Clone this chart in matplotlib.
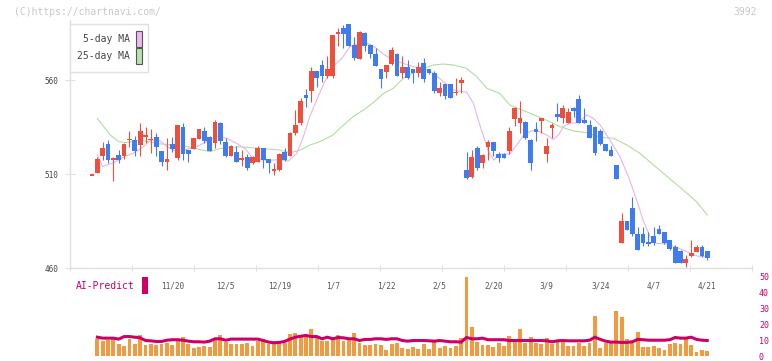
import numpy as np
import matplotlib
matplotlib.use("Agg")
import matplotlib.pyplot as plt
import matplotlib.transforms as mtransforms
from matplotlib.patches import Rectangle

# daily candles (open, high, low, close), oldest first
opens = [509, 510.7, 519.7, 526, 517.5, 520, 519.7, 528, 528, 525.6,
         529.5, 528, 529.7, 522, 516.6, 526, 518.7, 535.2, 522.8, 523.5,
         528.8, 532.7, 529.7, 526.7, 537.1, 527, 519.7, 521.7, 517.5, 519,
         515.7, 516.6, 523.6, 517.8, 511.8, 512, 521.9, 519.8, 531.6, 537.3,
         552, 554.1, 564.8, 568, 562.3, 562.3, 584.5, 587.5, 589.8, 578.6,
         571.3, 585.2, 578.6, 574, 565.8, 564.4, 568.5, 574, 563.5, 567.1,
         565.7, 563.5, 569.2, 565.7, 563.5, 552.9, 557.9, 557.9, 552.9, 558.6,
         512.1, 508.6, 524, 515.7, 524.5, 526.8, 520.6, 520.5, 522.4, 539.4,
         537.3, 537.7, 528.1, 533.8, 538.4, 520.5, 534.6, 541.9, 539.6, 537.3,
         544.9, 549.9, 538.7, 535.9, 535.2, 532.9, 525.8, 522.8, 514.8, 473.5,
         485, 491.9, 478.1, 477.9, 473.8, 477, 480.7, 479.1, 474.9, 471,
         469.2, 462.8, 466.4, 468.7, 471, 469]
highs = [509, 519, 527, 528, 519.2, 522.8, 526.5, 532.9, 530, 537.3,
         535.2, 534, 532, 522.5, 529.3, 529.7, 536.3, 537.3, 523, 529.2,
         534.2, 534.8, 530, 538.7, 537.7, 529, 525.5, 525, 522.8, 520.5,
         519.5, 525, 524, 518, 515.7, 521, 524, 532.5, 544, 550.2,
         555.2, 567.1, 565, 570.6, 572.9, 584.2, 587.5, 589, 590, 583,
         585.8, 585.5, 579, 577.2, 566, 568.2, 577.7, 574.5, 572.9, 570.6,
         566, 569.7, 571.9, 566, 564.8, 559.1, 558, 558, 560.9, 561.8,
         521.9, 522.8, 524.9, 520.5, 528, 527, 521.9, 521, 535.2, 545.5,
         548.8, 538, 528.5, 537.7, 540, 529, 537, 547.6, 546.7, 545.3,
         545.8, 552, 544.9, 538.7, 535.5, 533.8, 526, 524.9, 515, 489,
         485.2, 497.9, 482, 482, 479.3, 482, 482.9, 479.3, 475, 472.2,
         469.5, 466.9, 474.9, 472.2, 472.2, 469.2]
lows = [509, 510.5, 517.5, 515.7, 506.5, 515.7, 517.8, 524.5, 519.7, 519.7,
        526.3, 521, 519.7, 514.4, 512.1, 521.5, 517.4, 517.4, 516.6, 523.5,
        528.8, 526.3, 522, 523.6, 525.8, 518.9, 519.5, 516.6, 514.4, 512.3,
        515.5, 516.3, 513.4, 510.7, 509.6, 511.5, 517, 519.5, 531, 536,
        545.5, 548.5, 556.4, 559.1, 560.9, 560.9, 578, 576.8, 578, 570.6,
        571, 575.6, 571.5, 567.6, 555.9, 561, 568, 562, 560.9, 560.5,
        558.6, 561.8, 559.1, 563, 552.9, 551.5, 549.7, 550.5, 552, 552.9,
        507.5, 508, 512.1, 513, 517.4, 519.8, 516.6, 518.5, 520.6, 535.7,
        531.6, 528.4, 512.1, 527.7, 531.6, 516.6, 529, 538.4, 537.3, 537,
        540.5, 537, 537, 529, 520.1, 525.5, 522, 519.5, 507.3, 473.3,
        480, 477, 469.6, 471.9, 471.9, 472.2, 477.9, 473, 469.6, 462.8,
        462.8, 460.7, 466, 468.5, 465.7, 464.2]
closes = [509, 517.8, 523.8, 517.5, 518, 517.4, 526, 528.5, 522.4, 532.9,
          531, 528.5, 524.5, 516.6, 518, 523.5, 536, 520.5, 520.5, 529.2,
          534, 527.7, 522.4, 537.7, 527.7, 519.7, 524.9, 516.6, 518, 513.4,
          519, 523.6, 517.4, 515.7, 512.6, 520.5, 517.4, 532, 536, 549,
          550.6, 564.8, 561.2, 562.3, 565.8, 584, 585, 584.5, 578.3, 571.5,
          585.5, 578.3, 573.6, 567.6, 560.7, 568, 576, 562.3, 567.1, 560.9,
          563.5, 567.1, 560.5, 563.5, 554.3, 555.7, 551.5, 550.6, 553.8, 560,
          507.7, 519.2, 513.4, 520, 526.8, 522.4, 518.7, 518.7, 533, 545.3,
          539.6, 529, 515.7, 532.5, 539.6, 524.9, 536, 540.5, 545.1, 542.8,
          543.7, 537, 537.3, 529.3, 521.3, 525.8, 522.4, 519.8, 507.5, 485,
          480.2, 478.1, 469.6, 473.1, 472.6, 473.5, 477.9, 473.5, 469.9, 462.8,
          462.8, 464.8, 468.1, 471, 466.4, 465.5]

# moving averages (candle index, price)
ma5_x = [1, 2, 4, 6, 7.7, 9.6, 11, 12.7, 14, 15.5, 17.7, 19.6, 21.4, 23.3, 25.2, 27,
         28.6, 29.9, 32, 33.9, 35, 36.7, 38.3, 39.5, 40.7, 42, 43.5, 45, 46.7, 48.2,
         49.8, 51.5, 53.2, 54.7, 56.3, 58.2, 60, 62, 63.8, 65.7, 67.5, 69.1, 70,
         71.3, 72.2, 73.2, 74.1, 75.1, 76.2, 78.1, 79.4, 80.7, 82.2, 83.7, 85, 86.2,
         87.2, 88.1, 89.4, 90.9, 92.5, 93.7, 95, 96.8, 98.7, 100.5, 101.8, 103,
         104.3, 105.5, 107.4, 109, 110.5, 112.1, 113.6, 115]
ma5_y = [520.1, 513.9, 516, 519.2, 521, 524.5, 528.1, 527.7, 524.5, 522.4, 523.1,
         524.5, 527.2, 529.9, 529, 526.3, 523.6, 518.9, 517.4, 517.4, 517.8, 516.9,
         521, 529.8, 540.5, 549.4, 559.1, 567.1, 571.5, 577.7, 579.5, 579.5, 576.8,
         573.3, 570.6, 568.8, 567.1, 566.2, 563.5, 559.1, 554.7, 553.8, 553.6,
         547.6, 538.7, 529.9, 521.9, 517.4, 520.6, 520.6, 525.4, 530.7, 533, 532.5,
         530.7, 528.4, 530.7, 535.2, 537, 537.3, 541.4, 539.6, 536, 528.1, 519.2,
         506.8, 496.2, 485.5, 476.7, 473.1, 472.8, 471.3, 469.6, 467.4, 466, 466]
ma25_x = [1, 3.4, 5, 6.5, 9, 12, 15, 18, 20, 22, 24, 27.7, 31.4, 35, 37, 39, 40.7,
          42.6, 45, 47, 48.8, 50.7, 52.6, 54.5, 56.3, 58.2, 60.1, 62, 63.8, 65.7,
          67.5, 70, 71.9, 73.8, 76.2, 78.1, 80, 81.9, 83.7, 85.6, 87.5, 90, 92.5,
          95, 97.5, 100, 102.4, 105.5, 108.3, 110.5, 113, 115]
ma25_y = [539.6, 530.7, 527.2, 526.7, 528.1, 526.3, 525.4, 524.5, 523.1, 521.9,
          523.6, 524.5, 523.6, 522.8, 521.3, 522.8, 525.4, 527.2, 530.7, 536,
          540.5, 544, 548, 552.9, 555.6, 560.9, 563.9, 566.2, 568, 568.5, 568,
          566.2, 561.8, 555.6, 552.9, 546.7, 544.4, 542.3, 540.1, 537.8, 535.2,
          532.9, 532, 529.5, 529, 525.4, 521, 513.5, 506.8, 501.5, 495.3, 488.2]

# lower panel: bars and AI-Predict line
volume = [0, 10.9, 9.4, 10.3, 12.3, 7.3, 6.3, 10.7, 7.5, 13.2,
          6.9, 7.5, 6.9, 7.7, 8.2, 6.9, 9.8, 11.9, 7.3, 5.0,
          5.6, 6.1, 5.6, 11.7, 13.2, 8.8, 7.5, 7.5, 7.5, 8.2,
          6.3, 9.4, 10.7, 7.3, 7.7, 8.4, 8.2, 13.8, 14.4, 12.3,
          11.9, 17.2, 11.9, 9.4, 9.8, 11.1, 13.2, 9.6, 11.3, 14.4,
          8.4, 6.9, 6.9, 7.5, 6.9, 3.8, 7.3, 8.2, 5.0, 4.4,
          5.6, 4.6, 7.3, 4.2, 8.8, 5.2, 6.1, 5.0, 6.1, 11.3,
          50.2, 18.2, 8.8, 6.9, 6.9, 5.6, 8.2, 6.3, 12.6, 9.4,
          17.2, 8.2, 11.9, 8.2, 7.5, 11.3, 7.9, 8.6, 8.8, 6.3,
          6.3, 8.2, 6.3, 8.2, 25.1, 5.2, 8.2, 8.2, 28.2, 24.5,
          10.7, 8.2, 15.1, 5.6, 5.6, 6.3, 5.0, 3.8, 7.5, 8.2,
          7.5, 10.7, 6.9, 2.5, 3.8, 3.1]
ai_predict = [11.9, 11.3, 11.3, 11.3, 10.7, 12.3, 12.3, 11.9, 11.5, 9.8,
              9.6, 9.2, 9.2, 10.0, 10.3, 10.3, 10.0, 9.4, 9.0, 9.0,
              8.8, 9.4, 10.9, 10.9, 10.0, 10.7, 10.7, 10.7, 10.7, 10.7,
              10.7, 9.8, 8.8, 8.4, 8.6, 9.2, 10.7, 11.9, 12.5, 13.0,
              12.3, 12.3, 10.9, 11.9, 10.9, 11.7, 11.5, 10.9, 10.9, 9.8,
              10.5, 10.5, 10.9, 10.9, 10.5, 10.9, 10.9, 9.8, 9.4, 9.8,
              9.8, 9.8, 9.6, 9.4, 9.8, 9.4, 9.0, 9.0, 8.8, 11.7,
              10.9, 10.9, 11.3, 10.3, 10.3, 10.3, 10.3, 9.8, 9.8, 9.8,
              9.8, 9.8, 9.8, 9.8, 9.6, 9.0, 9.6, 9.8, 9.6, 9.6,
              9.6, 9.6, 10.0, 11.9, 10.5, 9.4, 8.8, 8.8, 8.6, 8.6,
              9.0, 10.5, 10.3, 10.0, 10.0, 10.0, 10.0, 10.3, 11.7, 11.3,
              11.3, 11.9, 10.5, 10.0, 9.8]

date_pos = [15, 25, 35, 45, 55, 65, 75, 85, 95, 105, 115]
date_labels = ["11/20", "12/5", "12/19", "1/7", "1/22", "2/5", "2/20", "3/9", "3/24", "4/7", "4/21"]

W, H = 772, 361
UP, DOWN = "#f04e3c", "#3f7cef"
MONO = "DejaVu Sans Mono"
GRID = "#e0e0e0"


def fx(x):
    return x / W


def fy(y):
    return 1 - y / H


fig = plt.figure(figsize=(W / 100, H / 100), dpi=100)
fig.patch.set_facecolor("white")

ax = fig.add_axes([fx(70), fy(268), fx(682), 248 / H])
vax = fig.add_axes([fx(70), fy(356), fx(682), 79 / H])
xlim = (-22 / 5.35, 660 / 5.35)

idx = np.arange(len(opens))
o, h, l, c = map(np.array, (opens, highs, lows, closes))
cols = np.where(c >= o, UP, DOWN)

ax.plot(ma25_x, ma25_y, color="#b4dca2", lw=0.8, zorder=1)
ax.plot(ma5_x, ma5_y, color="#eab4ea", lw=0.8, zorder=1)
ax.vlines(idx, l, h, colors=cols, lw=0.8, zorder=2)
body = np.maximum(np.abs(c - o), 0.8)
ax.bar(idx, body, bottom=np.minimum(o, c), width=0.88, color=cols, lw=0, zorder=3)

ax.set_xlim(*xlim)
ax.set_ylim(460, 460 + 248 / 1.88)
for s in ("top", "right"):
    ax.spines[s].set_visible(False)
for s in ("left", "bottom"):
    ax.spines[s].set_color(GRID)
    ax.spines[s].set_linewidth(1)
ax.set_yticks([460, 510, 560])
ax.set_yticklabels(["460", "510", "560"], family=MONO, fontsize=5.6, color="#444444")
ax.tick_params(axis="y", direction="inout", length=6.5, color=GRID, pad=5)
ax.set_xticks(np.linspace(xlim[0], xlim[1], 12))
ax.set_xticklabels([])
ax.tick_params(axis="x", direction="inout", length=4, color=GRID)

tr = mtransforms.blended_transform_factory(ax.transData, fig.transFigure)
for p, lab in zip(date_pos, date_labels):
    ax.text(p, fy(286), lab, transform=tr, ha="center", va="center",
            family=MONO, fontsize=5.6, color="#555555")

# legend box
fig.add_artist(Rectangle((fx(70), fy(72)), fx(78), 48 / H, transform=fig.transFigure,
                         fc="white", ec=GRID, lw=1, zorder=5))
for yy, lab, col in [(39, "5-day MA", "#f0b8f0"), (56, "25-day MA", "#b8e0b0")]:
    fig.text(fx(130), fy(yy), lab, ha="right", va="center", family=MONO,
             fontsize=7, color="#444444", zorder=6)
    fig.add_artist(Rectangle((fx(136), fy(yy + 7.5)), fx(6), 15 / H, transform=fig.transFigure,
                             fc=col, ec="#555555", lw=0.8, zorder=6))

fig.text(fx(14), fy(12), "(C)https://chartnavi.com/", ha="left", va="center",
         family=MONO, fontsize=7, color="#c8c8c8")
fig.text(fx(757), fy(12), "3992", ha="right", va="center", family=MONO,
         fontsize=7, color="#c8c8c8")

# AI-Predict panel
vax.bar(idx, volume, width=0.72, color="#f29a40", lw=0, zorder=2)
vax.plot(idx[1:], ai_predict, color="#cc0066", lw=2.2, zorder=3, solid_joinstyle="miter")
vax.set_xlim(*xlim)
vax.set_ylim(0, 50)
for s in vax.spines.values():
    s.set_visible(False)
vax.set_xticks([])
vax.yaxis.tick_right()
vax.set_yticks([0, 10, 20, 30, 40, 50])
vax.tick_params(axis="y", length=0, pad=5, labelsize=6, labelcolor="#cc0066")
for t in vax.get_yticklabels():
    t.set_family(MONO)
vax.patch.set_alpha(0)

fig.text(fx(76), fy(286), "AI-Predict", ha="left", va="center", family=MONO,
         fontsize=7, color="#cc0066")
fig.add_artist(Rectangle((fx(142), fy(294)), fx(6), 17 / H, transform=fig.transFigure,
                         fc="#cc0066", ec="none"))

fig.savefig("out.png", dpi=100)
